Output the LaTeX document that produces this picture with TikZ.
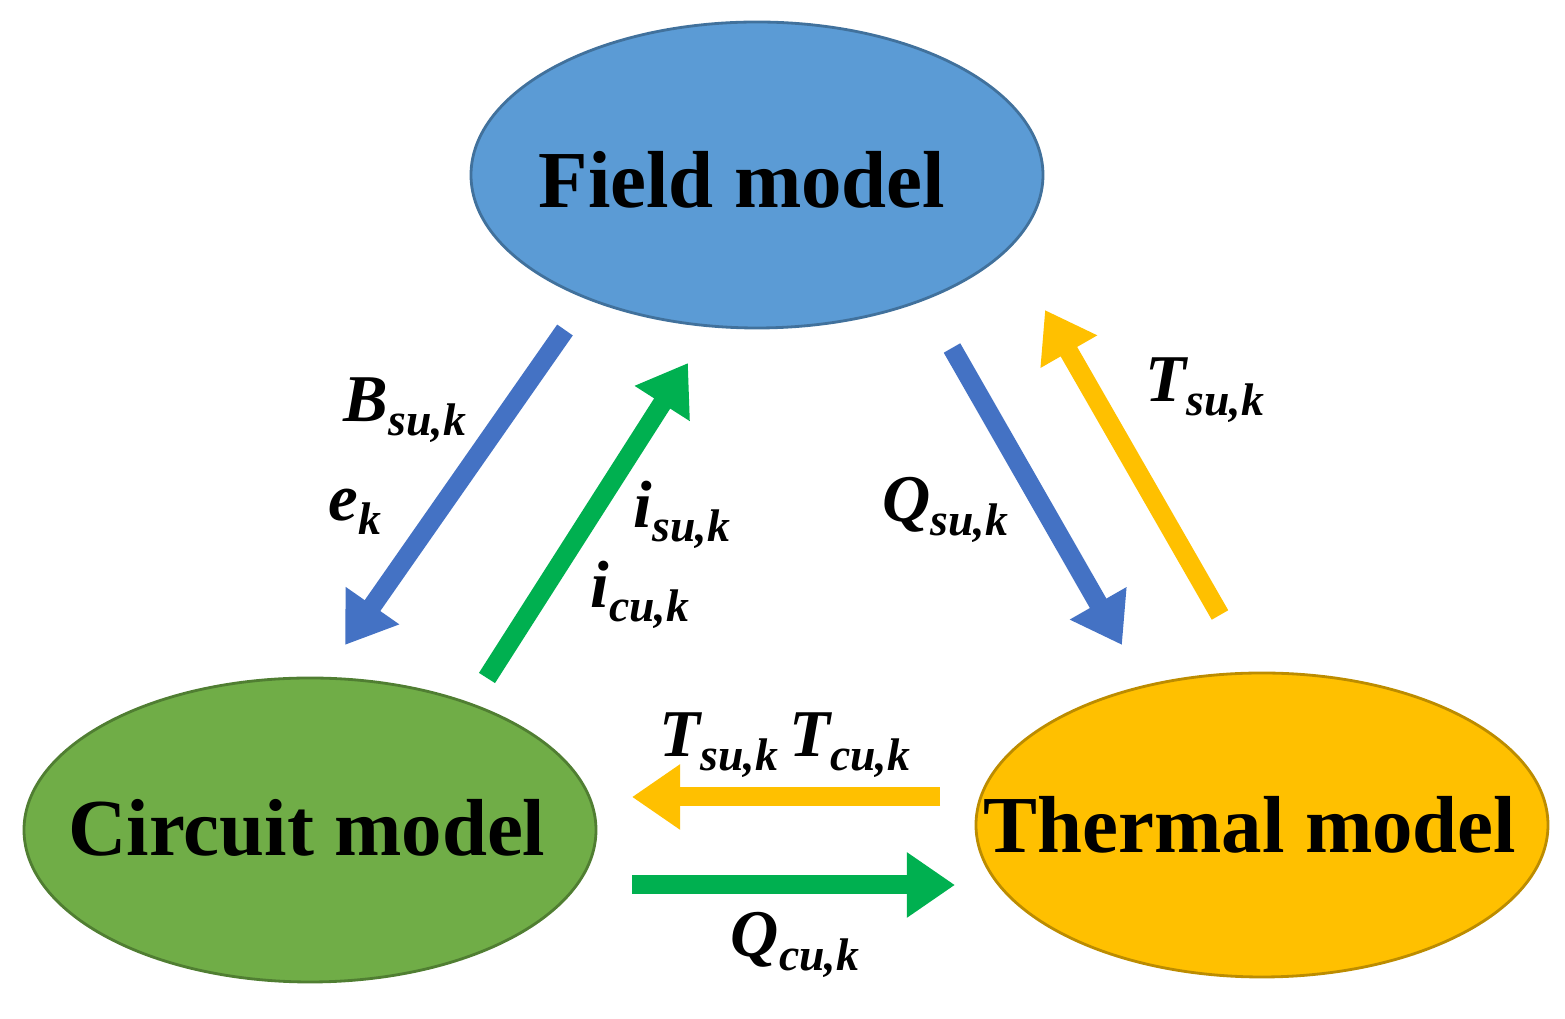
\documentclass[tikz,border=0pt]{standalone}
\usepackage{fontspec}
\setmainfont{Liberation Serif}
\usetikzlibrary{arrows.meta,shapes.geometric}
\newcommand{\lbl}[2]{{\bfseries\itshape #1\raisebox{-0.45ex}{\fontsize{13}{13}\selectfont #2}}}
\begin{document}
\begin{tikzpicture}[x=0.01cm,y=-0.01cm,
 ell/.style={line width=0.8pt},
 big/.style={line width=0.19cm,-{Triangle[length=0.48cm,width=0.62cm]}},
 lab/.style={font=\fontsize{19}{19}\selectfont,inner sep=0pt},
 txt/.style={font=\fontsize{23}{23}\selectfont\bfseries,inner sep=0pt}]
\useasboundingbox (0,0) rectangle (1565,1019);
\definecolor{cb}{RGB}{68,114,196}\definecolor{cg}{RGB}{0,176,80}\definecolor{cy}{RGB}{255,192,0}
\draw[ell,draw={rgb,255:red,65;green,113;blue,156},fill={rgb,255:red,91;green,155;blue,213}] (757,175) ellipse [x radius=286,y radius=153];
\draw[ell,draw={rgb,255:red,80;green,126;blue,50},fill={rgb,255:red,112;green,173;blue,71}] (310,830) ellipse [x radius=286,y radius=152];
\draw[ell,draw={rgb,255:red,188;green,140;blue,0},fill=cy] (1262,825) ellipse [x radius=286,y radius=152];
\node[txt] (field) at (742,180) {Field model};
\node[txt] (circ) at (307,828) {Circuit model};
\node[txt] (therm) at (1250,825) {Thermal model};
\coordinate (b1) at (565,330); \coordinate (b2) at (345,645);
\coordinate (g1) at (487,678); \coordinate (g2) at (688,363);
\coordinate (q1) at (952,348); \coordinate (q2) at (1122,645);
\coordinate (t1) at (1220,615); \coordinate (t2) at (1045,310);
\coordinate (h1) at (940,797); \coordinate (h2) at (632,797);
\coordinate (k1) at (632,885); \coordinate (k2) at (955,885);
\draw[big,cb] (b1) -- (b2);
\draw[big,cg] (g1) -- (g2);
\draw[big,cb] (q1) -- (q2);
\draw[big,cy] (t1) -- (t2);
\draw[big,cy] (h1) -- (h2);
\draw[big,cg] (k1) -- (k2);
\node[lab] (l1) at (405,410) {\lbl{B}{su,k}};
\node[lab] (l2) at (355,512) {\lbl{e}{k}};
\node[lab] (l3) at (682,515) {\lbl{i}{su,k}};
\node[lab] (l4) at (640,595) {\lbl{i}{cu,k}};
\node[lab] (l5) at (945,510) {\lbl{Q}{su,k}};
\node[lab] (l6) at (1205,390) {\lbl{T}{su,k}};
\node[lab] (l7) at (785,745) {\lbl{T}{su,k}\,\lbl{T}{cu,k}};
\node[lab] (l8) at (795,945) {\lbl{Q}{cu,k}};
\end{tikzpicture}
\end{document}
